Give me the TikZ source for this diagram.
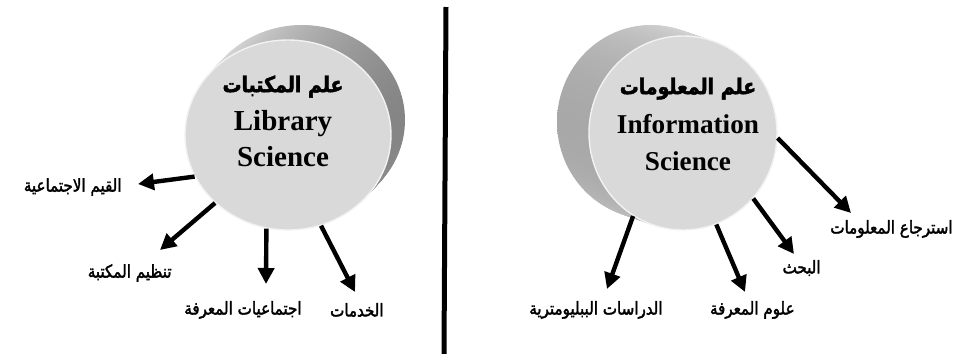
\documentclass[tikz,border=0pt]{standalone}
\usepackage{fontspec}
\setmainfont{Liberation Serif}
\newfontfamily\arabicfont[Script=Arabic, FakeBold=2, FakeStretch=0.86]{DejaVu Sans}
\TeXXeTstate=1
\usetikzlibrary{shapes.geometric}
\usetikzlibrary{arrows.meta, calc}
\newcommand{\arab}[1]{{\arabicfont\beginR #1\endR}}
\tikzstyle{face} = [ellipse, fill=black!15, draw=black!5, line width=0.7pt, inner sep=0pt]
\tikzstyle{arr} = [-{Triangle[length=8pt,width=8pt]}, line width=2.2pt]

\begin{document}
\begin{tikzpicture}[x=0.5pt, y=-0.5pt,
  lbl/.style={inner sep=0pt, font=\fontsize{8.8}{9}\selectfont},
  title/.style={align=center, inner sep=0pt, font=\fontsize{14.5}{18}\selectfont\bfseries}]
\useasboundingbox (0,0) rectangle (955,354);

% Disk centres
\coordinate (libc) at (288,135);
\coordinate (infc) at (683,133);

% Sides of the disks
\foreach \k [evaluate=\k as \f using 1-\k/30] in {0,...,30}
  \path[shading=axis, left color=black!10, right color=black!48]
    ($(libc)+\f*(14,-15)$) ellipse [x radius=103, y radius=95];
\foreach \k [evaluate=\k as \f using 1-\k/30] in {0,...,30}
  \path[shading=axis, left color=black!34, right color=black!6]
    ($(infc)+\f*(-32,-11)$) ellipse [x radius=94, y radius=97];

% Define nodes
\node[face, minimum width=103pt, minimum height=95pt] (lib) at (libc) {};
\node[face, minimum width=94pt,  minimum height=97pt] (inf) at (infc) {};

\node[title] (libtxt) at (283,121) {{\fontsize{11}{14}\selectfont\arab{علم المكتبات}}\\[1pt] Library\\ Science};
\node[title, font=\fontsize{13.6}{18.5}\selectfont\bfseries] (inftxt) at (688,124) {{\fontsize{11}{14}\selectfont\arab{علم المعلومات}}\\[1pt] Information\\ Science};

\node[lbl, anchor=east] (vals)   at (122,187) {\arab{القيم الاجتماعية}};
\node[lbl, anchor=east] (org)    at (172,273) {\arab{تنظيم المكتبة}};
\node[lbl, anchor=east] (socio)  at (302,310) {\arab{اجتماعيات المعرفة}};
\node[lbl, anchor=east] (serv)   at (384,310) {\arab{الخدمات}};

\node[lbl, anchor=east] (retr)   at (953,229) {\arab{استرجاع المعلومات}};
\node[lbl, anchor=east] (search) at (821,268) {\arab{البحث}};
\node[lbl, anchor=east] (cogn)   at (795,310) {\arab{علوم المعرفة}};
\node[lbl, anchor=east] (biblio) at (663,310) {\arab{الدراسات الببليومترية}};

\coordinate (e1) at (138,184);
\coordinate (e2) at (160,250);
\coordinate (e3) at (266,284);
\coordinate (e4) at (355,292);
\coordinate (f1) at (851,213);
\coordinate (f2) at (794,254);
\coordinate (f3) at (745,292);
\coordinate (f4) at (607,289);
\coordinate (top) at (446,7);
\coordinate (bot) at (444,354);

% Edges
\draw[arr] (lib.204) -- (e1);
\draw[arr] (lib.223) -- (e2);
\draw[arr] (lib.257) -- (e3);
\draw[arr] (lib.290) -- (e4);
\draw[arr] (inf.357) -- (f1);
\draw[arr] (inf.317) -- (f2);
\draw[arr] (inf.290) -- (f3);
\draw[arr] (inf.239) -- (f4);

\draw[line width=2.5pt] (top) -- (bot);
\end{tikzpicture}
\end{document}
